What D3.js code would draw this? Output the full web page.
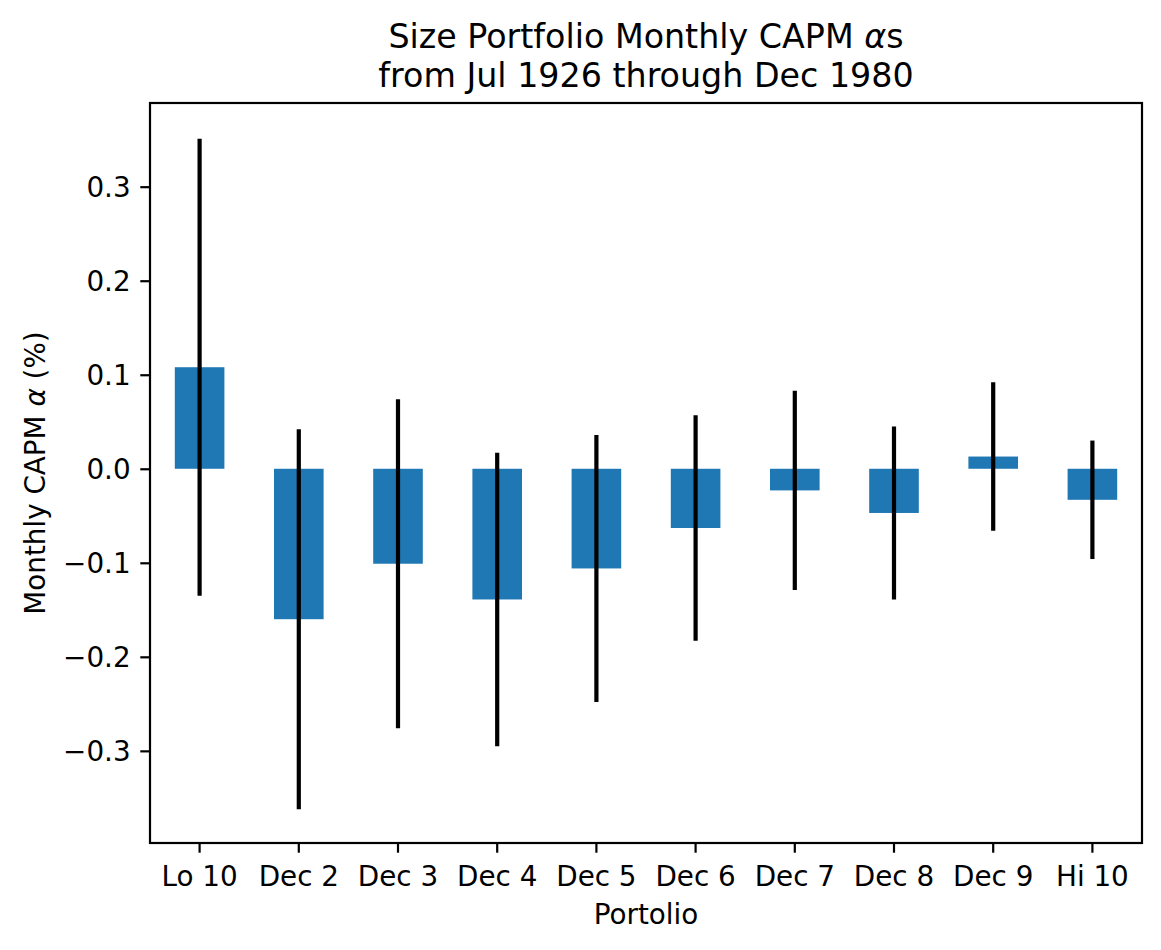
<!DOCTYPE html>
<html>
<head>
<meta charset="utf-8">
<script src="https://cdn.jsdelivr.net/npm/d3@7"></script>
<style>
    body { margin: 0; background: #fff; }
    text { font-family: "DejaVu Sans", sans-serif; fill: #000; }
</style>
</head>
<body>
<svg id="chart" width="1161" height="950"></svg>
<script>
const portfolios = ["Lo 10", "Dec 2", "Dec 3", "Dec 4", "Dec 5", "Dec 6", "Dec 7", "Dec 8", "Dec 9", "Hi 10"];
const alphas = [0.108, -0.160, -0.101, -0.139, -0.106, -0.063, -0.023, -0.047, 0.013, -0.033];
const errors = [0.243, 0.202, 0.175, 0.156, 0.142, 0.120, 0.106, 0.092, 0.079, 0.063];
const yTicks = [-0.3, -0.2, -0.1, 0.0, 0.1, 0.2, 0.3];

const svg = d3.select("#chart");

const area = { left: 150, right: 1142, top: 103, bottom: 843 };

const scaleX = d3.scaleBand()
    .domain(portfolios)
    .range([area.left, area.right])
    .paddingInner(0)
    .paddingOuter(0);

const scaleY = d3.scaleLinear()
    .domain([-0.398, 0.389])
    .range([area.bottom, area.top]);

const barW = scaleX.bandwidth() * 0.5;

// bars
svg.selectAll(".bar")
    .data(portfolios)
    .enter()
    .append("rect")
    .attr("class", "bar")
    .attr("x", (d, i) => scaleX(d) + (scaleX.bandwidth() - barW) / 2)
    .attr("y", (d, i) => scaleY(Math.max(0, alphas[i])))
    .attr("width", barW)
    .attr("height", (d, i) => Math.abs(scaleY(alphas[i]) - scaleY(0)))
    .attr("fill", "#1f77b4");

// error bars
svg.selectAll(".err")
    .data(portfolios)
    .enter()
    .append("line")
    .attr("class", "err")
    .attr("x1", d => scaleX(d) + scaleX.bandwidth() / 2)
    .attr("x2", d => scaleX(d) + scaleX.bandwidth() / 2)
    .attr("y1", (d, i) => scaleY(alphas[i] + errors[i]))
    .attr("y2", (d, i) => scaleY(alphas[i] - errors[i]))
    .attr("stroke", "#000")
    .attr("stroke-width", 4.2);

// axes
const fmt = v => d3.format(".1f")(v).replace("-", "\u2212");

const axisX = svg.append("g")
    .attr("transform", `translate(0, ${area.bottom})`)
    .call(d3.axisBottom(scaleX).tickSize(9.7).tickPadding(9.7).tickSizeOuter(0));

const axisY = svg.append("g")
    .attr("transform", `translate(${area.left}, 0)`)
    .call(d3.axisLeft(scaleY).tickValues(yTicks).tickFormat(fmt).tickSize(9.7).tickPadding(9.7).tickSizeOuter(0));

[axisX, axisY].forEach(g => {
    g.select(".domain").remove();
    g.selectAll(".tick line").attr("stroke", "#000").attr("stroke-width", 2.2);
    g.selectAll(".tick text").style("font-size", "27.8px").attr("fill", "#000");
});
axisY.selectAll(".tick text").attr("dy", "0.36em");
axisX.selectAll(".tick text").attr("dy", "0.85em");

// frame
svg.append("rect")
    .attr("x", area.left)
    .attr("y", area.top)
    .attr("width", area.right - area.left)
    .attr("height", area.bottom - area.top)
    .attr("fill", "none")
    .attr("stroke", "#000")
    .attr("stroke-width", 2.2);

// labels
const title = svg.append("text")
    .attr("text-anchor", "middle")
    .style("font-size", "33.3px");
title.append("tspan").attr("x", (area.left + area.right) / 2).attr("y", 48)
    .text("Size Portfolio Monthly CAPM ")
    .append("tspan").style("font-style", "italic").text("\u03b1");
title.select("tspan").append("tspan").style("font-style", "normal").text("s");
title.append("tspan").attr("x", (area.left + area.right) / 2).attr("y", 87)
    .text("from Jul 1926 through Dec 1980");

svg.append("text")
    .attr("x", (area.left + area.right) / 2)
    .attr("y", 924)
    .attr("text-anchor", "middle")
    .style("font-size", "27.8px")
    .text("Portolio");

const yl = svg.append("text")
    .attr("transform", `translate(45, ${(area.top + area.bottom) / 2}) rotate(-90)`)
    .attr("text-anchor", "middle")
    .style("font-size", "27.8px");
yl.append("tspan").text("Monthly CAPM ");
yl.append("tspan").style("font-style", "italic").text("\u03b1");
yl.append("tspan").text(" (%)");
</script>
</body>
</html>
